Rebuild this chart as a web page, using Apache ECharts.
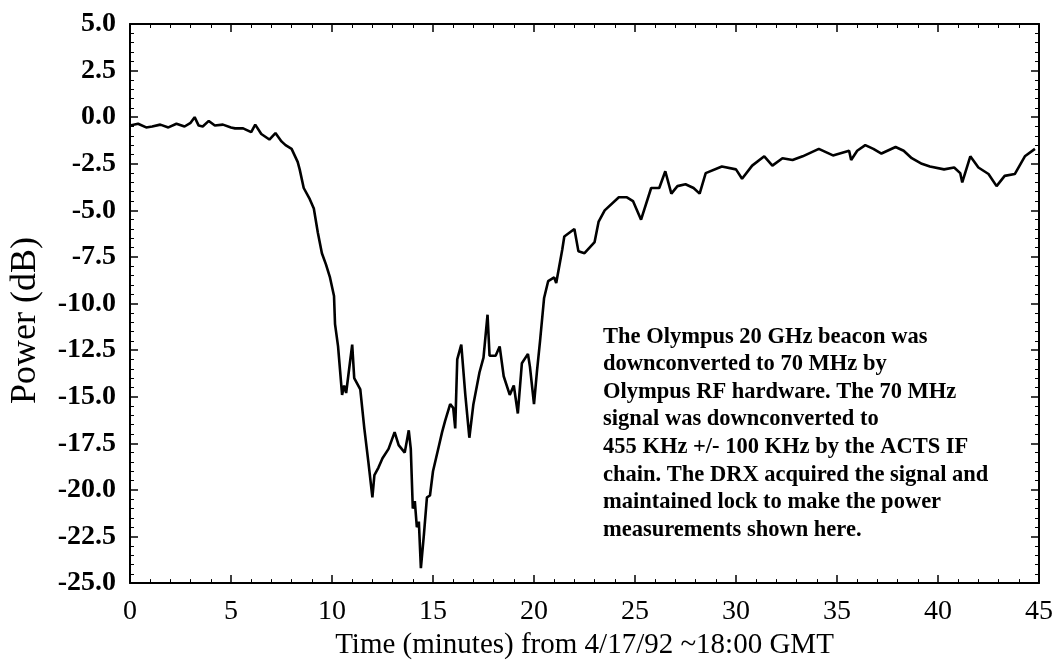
<!DOCTYPE html>
<html>
<head>
<meta charset="utf-8">
<script src="https://cdn.jsdelivr.net/npm/echarts@6/dist/echarts.min.js"></script>
<style>
  html, body { margin: 0; padding: 0; background: #fff; }
  #chart { width: 1057px; height: 665px; }
</style>
</head>
<body>
<div id="chart"></div>
<script>
// time in minutes after ~18:00 GMT, 4/17/92
var times = [
  0.0, 0.4, 0.8, 1.1, 1.5, 1.9, 2.3, 2.7, 3.0, 3.2, 3.4, 3.6, 3.9, 4.2, 4.6, 5.0,
  5.2, 5.6, 6.0, 6.2, 6.5, 6.9, 7.2, 7.5, 7.7, 8.0, 8.3, 8.4, 8.6, 8.9, 9.1, 9.3,
  9.5, 9.7, 9.9, 10.1, 10.15, 10.3, 10.5, 10.6, 10.7, 10.85, 11.0, 11.1, 11.4, 11.6,
  11.8, 12.0, 12.1, 12.3, 12.5, 12.8, 13.1, 13.3, 13.6, 13.8, 13.9, 14.0, 14.1, 14.2,
  14.3, 14.4, 14.55, 14.7, 14.85, 15.0, 15.3, 15.45, 15.6, 15.85, 16.0, 16.1, 16.2,
  16.4, 16.6, 16.8, 17.0, 17.3, 17.5, 17.7, 17.8, 18.1, 18.3, 18.5, 18.8, 19.0, 19.2,
  19.4, 19.7, 19.8, 20.0, 20.15, 20.3, 20.5, 20.7, 21.0, 21.1, 21.4, 21.5, 22.0, 22.2,
  22.5, 23.0, 23.2, 23.5, 24.2, 24.6, 24.9, 25.3, 25.8, 26.2, 26.5, 26.8, 27.1, 27.5,
  27.9, 28.2, 28.5, 29.3, 30.0, 30.3, 30.8, 31.4, 31.8, 32.3, 32.8, 33.3, 34.1, 34.8,
  35.6, 35.7, 36.0, 36.4, 36.8, 37.2, 37.9, 38.3, 38.7, 39.2, 39.6, 40.3, 40.8, 41.1,
  41.2, 41.6, 42.0, 42.5, 42.9, 43.3, 43.8, 44.3, 44.8
];
// received beacon power, dB
var power = [
  -0.45, -0.35, -0.55, -0.5, -0.4, -0.55, -0.35, -0.5, -0.3, 0.0, -0.45, -0.5, -0.2, -0.45, -0.4, -0.55,
  -0.6, -0.6, -0.8, -0.4, -0.9, -1.2, -0.85, -1.3, -1.5, -1.7, -2.4, -2.8, -3.8, -4.4, -4.9, -6.2,
  -7.3, -7.9, -8.6, -9.6, -11.1, -12.3, -14.9, -14.4, -14.8, -13.5, -12.2, -14.0, -14.6, -16.7,
  -18.5, -20.4, -19.2, -18.8, -18.3, -17.8, -16.9, -17.6, -18.0, -16.8, -17.8, -21.0, -20.6, -22.0,
  -21.7, -24.2, -22.4, -20.4, -20.3, -19.0, -17.6, -16.9, -16.3, -15.4, -15.6, -16.7, -13.0,
  -12.2, -14.9, -17.2, -15.4, -13.7, -12.9, -10.6, -12.8, -12.8, -12.3, -13.9, -14.9, -14.4, -15.9,
  -13.2, -12.7, -13.4, -15.4, -13.6, -12.0, -9.7, -8.8, -8.6, -8.9, -7.1, -6.4, -6.0, -7.2,
  -7.3, -6.7, -5.6, -5.0, -4.3, -4.3, -4.5, -5.5, -3.8, -3.8, -2.9, -4.1, -3.7, -3.6,
  -3.8, -4.1, -3.0, -2.65, -2.8, -3.3, -2.6, -2.1, -2.6, -2.2, -2.3, -2.1, -1.7, -2.05,
  -1.8, -2.3, -1.8, -1.5, -1.7, -1.95, -1.6, -1.8, -2.2, -2.5, -2.65, -2.8, -2.7, -3.0,
  -3.5, -2.1, -2.7, -3.05, -3.7, -3.15, -3.05, -2.1, -1.7
];
var note = [
  "The Olympus 20 GHz beacon was",
  "downconverted to 70 MHz by",
  "Olympus RF hardware. The 70 MHz",
  "signal was downconverted to",
  "455 KHz +/- 100 KHz by the ACTS IF",
  "chain. The DRX acquired the signal and",
  "maintained lock to make the power",
  "measurements shown here."
];

var serif = "Liberation Serif";
var chart = echarts.init(document.getElementById("chart"));

var points = times.map(function (t, i) { return [t, power[i]]; });

// shared axis pieces (frame is drawn by 4 axes, ticks pointing in)
var lineBlack = { show: true, onZero: false, lineStyle: { color: "#000", width: 2 } };
var tickIn = { show: true, inside: true, length: 8, lineStyle: { color: "#000", width: 1.5 } };
var minorIn = { show: true, splitNumber: 5, length: 4, lineStyle: { color: "#000", width: 1 } };

var option = {
  backgroundColor: "#fff",
  animation: false,
  grid: { left: 128, right: 18, top: 24, bottom: 76, containLabel: false },
  xAxis: [
    {
      type: "value", min: 0, max: 45, interval: 5,
      name: "Time (minutes) from 4/17/92 ~18:00 GMT",
      nameLocation: "middle", nameGap: 44,
      nameTextStyle: { fontFamily: serif, fontSize: 29, color: "#000" },
      axisLine: lineBlack, axisTick: tickIn, minorTick: minorIn,
      axisLabel: { fontFamily: serif, fontSize: 28, color: "#000", margin: 15 },
      splitLine: { show: false }
    },
    {
      type: "value", min: 0, max: 45, interval: 5, position: "top",
      axisLine: lineBlack, axisTick: tickIn, minorTick: minorIn,
      axisLabel: { show: false }, splitLine: { show: false }
    }
  ],
  yAxis: [
    {
      type: "value", min: -25, max: 5, interval: 2.5,
      name: "Power (dB)",
      nameLocation: "middle", nameGap: 86,
      nameTextStyle: { fontFamily: serif, fontSize: 36, color: "#000", padding: [0, 34, 0, 0] },
      axisLine: lineBlack, axisTick: tickIn, minorTick: minorIn,
      axisLabel: {
        fontFamily: serif, fontSize: 28, fontWeight: "bold", color: "#000", margin: 14,
        formatter: function (v) { return v.toFixed(1); }
      },
      splitLine: { show: false }
    },
    {
      type: "value", min: -25, max: 5, interval: 2.5, position: "right",
      axisLine: lineBlack, axisTick: tickIn, minorTick: minorIn,
      axisLabel: { show: false }, splitLine: { show: false }
    }
  ],
  series: [
    {
      type: "line",
      data: points,
      showSymbol: false,
      lineStyle: { color: "#000", width: 2.6 },
      xAxisIndex: 0,
      yAxisIndex: 0
    }
  ],
  graphic: [
    {
      type: "text",
      left: 603,
      top: 323,
      style: {
        text: note.join("\n"),
        font: "bold 22.5px " + serif,
        lineHeight: 27.6,
        fill: "#000"
      }
    }
  ]
};

chart.setOption(option);
</script>
</body>
</html>
